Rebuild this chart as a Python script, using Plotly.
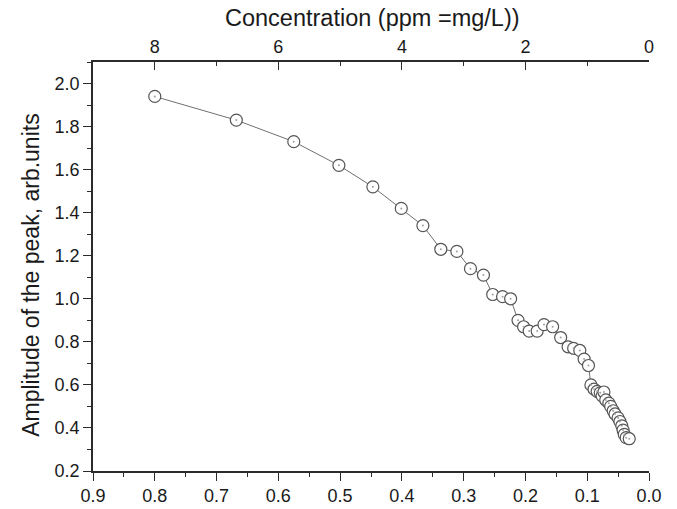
import plotly.graph_objects as go

# Peak amplitude versus concentration
conc = [0.800, 0.668, 0.575, 0.502, 0.447, 0.401, 0.366, 0.337, 0.311, 0.289,
        0.268, 0.253, 0.237, 0.224, 0.212, 0.203, 0.194, 0.181, 0.170, 0.156,
        0.143, 0.131, 0.122, 0.112, 0.105, 0.098, 0.094, 0.089, 0.084, 0.079,
        0.076, 0.073, 0.070, 0.065, 0.062, 0.058, 0.055, 0.050, 0.047, 0.044,
        0.042, 0.040, 0.037, 0.032]
amplitude = [1.94, 1.83, 1.73, 1.62, 1.52, 1.42, 1.34, 1.23, 1.22, 1.14,
             1.11, 1.02, 1.01, 1.00, 0.90, 0.87, 0.85, 0.85, 0.88, 0.87,
             0.82, 0.777, 0.770, 0.760, 0.72, 0.69, 0.60, 0.58, 0.57, 0.563,
             0.549, 0.567, 0.53, 0.515, 0.50, 0.48, 0.465, 0.447, 0.43, 0.41,
             0.39, 0.37, 0.355, 0.35]

# Top axis expressed in ppm (= mg/L)
ppm_scale = 10
top_ticks = [8, 6, 4, 2, 0]
top_minor = [7, 5, 3, 1]

top_title = "Concentration (ppm =mg/L))"
y_title = "Amplitude of the peak, arb.units"

FONT = "Liberation Sans, Arial, sans-serif"
AX = "#2b2b2b"

fig = go.Figure()

fig.add_trace(go.Scatter(
    x=conc, y=amplitude, mode="lines+markers",
    line=dict(color="#707070", width=1),
    marker=dict(symbol="circle", size=12, color="white",
                line=dict(color="#555555", width=1.2)),
    showlegend=False,
))

# faint centre dots of the open circles
fig.add_trace(go.Scatter(
    x=conc, y=amplitude, mode="markers",
    marker=dict(symbol="circle", size=2, color="#a0a0a0"),
    hoverinfo="skip", showlegend=False,
))

# invisible companion trace that carries the ppm axis
fig.add_trace(go.Scatter(
    x=[c * ppm_scale for c in conc], y=amplitude, xaxis="x2",
    mode="markers", marker=dict(opacity=0), hoverinfo="skip",
    showlegend=False,
))

fig.update_layout(
    width=677, height=509,
    margin=dict(l=93, r=28, t=62, b=38, autoexpand=False),
    plot_bgcolor="white", paper_bgcolor="white",
    font=dict(family=FONT, size=18, color="#1a1a1a"),
    xaxis=dict(
        range=[0.9, 0.0], tickmode="linear", tick0=0, dtick=0.1,
        tickformat=".1f", ticks="outside", ticklen=8, tickwidth=1.3,
        tickcolor=AX, showline=True, linecolor=AX, linewidth=1.5,
        showgrid=False, zeroline=False, automargin=False,
        minor=dict(dtick=0.05, ticks="outside", ticklen=4, tickcolor=AX, tickwidth=1.3),
    ),
    xaxis2=dict(
        range=[9, 0], overlaying="x", side="top",
        tickmode="array", tickvals=top_ticks, ticktext=[str(t) for t in top_ticks],
        ticks="inside", ticklen=8, tickwidth=1.3, tickcolor=AX,
        showline=True, linecolor=AX, linewidth=1.5,
        showgrid=False, zeroline=False, automargin=False,
        minor=dict(tickmode="array", tickvals=top_minor, ticks="inside",
                   ticklen=4, tickcolor=AX, tickwidth=1.3),
    ),
    yaxis=dict(
        range=[0.2, 2.1], tickmode="linear", tick0=0.2, dtick=0.2,
        tickformat=".1f", ticks="outside", ticklen=8, tickwidth=1.3,
        tickcolor=AX, showline=True, linecolor=AX, linewidth=1.5,
        showgrid=False, zeroline=False, automargin=False,
        minor=dict(dtick=0.1, ticks="outside", ticklen=4, tickcolor=AX, tickwidth=1.3),
    ),
    annotations=[
        dict(text=top_title, xref="paper", yref="paper", x=0.502, y=1.108,
             xanchor="center", yanchor="middle", showarrow=False,
             font=dict(size=23.5)),
        dict(text=y_title, xref="paper", yref="paper", x=-0.112, y=0.479,
             xanchor="center", yanchor="middle", showarrow=False, textangle=-90,
             font=dict(size=23)),
    ],
)

fig.write_html("out.html")
